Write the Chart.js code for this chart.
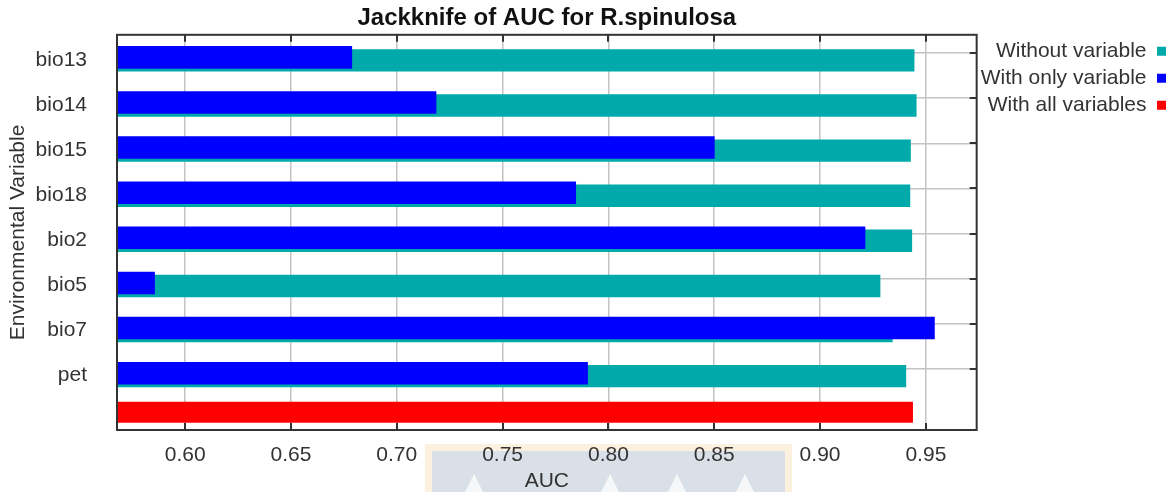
<!DOCTYPE html>
<html>
<head>
<meta charset="utf-8">
<title>Jackknife of AUC</title>
<script src="https://cdn.jsdelivr.net/npm/chart.js@4.4.1/dist/chart.umd.min.js"></script>
<style>
  html, body { margin: 0; padding: 0; background: #fff; }
  #wrap { width: 1172px; height: 492px; position: relative; }
</style>
</head>
<body>
<div id="wrap"><canvas id="jackknife"></canvas></div>
<script>
// variables and AUC values from the jackknife run
var variables = ['bio13', 'bio14', 'bio15', 'bio18', 'bio2', 'bio5', 'bio7', 'pet'];
var withoutVariable = [0.9446, 0.9456, 0.9429, 0.9426, 0.9435, 0.9285, 0.9343, 0.9407];
var withOnlyVariable = [0.6789, 0.7187, 0.8502, 0.7847, 0.9214, 0.5857, 0.9542, 0.7903];
var withAllVariables = 0.9439;

Chart.defaults.font.family = "'Liberation Sans', Arial, sans-serif";
Chart.defaults.color = '#333';

// rows as {x: auc, y: row index}
var onlyPoints = variables.map(function (v, i) { return { x: withOnlyVariable[i], y: i }; });
var withoutPoints = variables.map(function (v, i) { return { x: withoutVariable[i], y: i }; });
var allPoints = [{ x: withAllVariables, y: variables.length }];

// white page, plus the pale panel behind the axis title
var backdrop = {
    id: 'backdrop',
    beforeDraw: function (chart) {
        var ctx = chart.ctx;
        ctx.save();
        ctx.fillStyle = '#fff';
        ctx.fillRect(0, 0, chart.width, chart.height);
        ctx.fillStyle = '#fcf1df';
        ctx.fillRect(425, 444, 367, 48);
        ctx.fillStyle = '#d9e0e8';
        ctx.fillRect(432, 451, 353, 41);
        ctx.fillStyle = 'rgba(255,255,255,0.75)';
        [474, 610, 677, 745].forEach(function (px) {
            ctx.beginPath();
            ctx.moveTo(px, 474);
            ctx.lineTo(px + 9, 492);
            ctx.lineTo(px - 9, 492);
            ctx.closePath();
            ctx.fill();
        });
        ctx.restore();
    }
};

// plot frame with inward tick marks
var frame = {
    id: 'frame',
    afterDatasetsDraw: function (chart) {
        var ctx = chart.ctx, a = chart.chartArea, sx = chart.scales.x, sg = chart.scales.yg;
        ctx.save();
        ctx.strokeStyle = '#333';
        ctx.lineWidth = 2;
        ctx.strokeRect(a.left, a.top, a.right - a.left, a.bottom - a.top);
        ctx.beginPath();
        sx.ticks.forEach(function (t) {
            var px = Math.round(sx.getPixelForValue(t.value));
            ctx.moveTo(px, a.top); ctx.lineTo(px, a.top + 7);
            ctx.moveTo(px, a.bottom); ctx.lineTo(px, a.bottom - 7);
        });
        sg.ticks.forEach(function (t) {
            if (t.value >= variables.length) return;
            var py = Math.round(sg.getPixelForValue(t.value));
            ctx.moveTo(a.right, py); ctx.lineTo(a.right - 7, py);
        });
        ctx.stroke();
        ctx.restore();
    }
};

var ctx = document.getElementById('jackknife').getContext('2d');
var jackknifeChart = new Chart(ctx, {
    type: 'bar',
    data: {
        datasets: [{
            label: 'With all variables',
            data: allPoints,
            backgroundColor: '#ff0000',
            borderWidth: 0,
            categoryPercentage: 0.406,
            barPercentage: 3.44
        }, {
            label: 'With only variable',
            data: onlyPoints,
            backgroundColor: '#0000ff',
            borderWidth: 0,
            categoryPercentage: 0.2,
            barPercentage: 7.5
        }, {
            label: 'Without variable',
            data: withoutPoints,
            backgroundColor: '#00aaaa',
            borderWidth: 0,
            categoryPercentage: 0.2,
            barPercentage: 7.45
        }]
    },
    plugins: [backdrop, frame],
    options: {
        indexAxis: 'y',
        responsive: true,
        maintainAspectRatio: false,
        animation: false,
        layout: { padding: 0 },
        plugins: {
            title: {
                display: true,
                fullSize: false,
                text: 'Jackknife of AUC for R.spinulosa',
                color: '#111',
                font: { size: 24, weight: 'bold' },
                padding: { top: 4, bottom: 2 }
            },
            legend: {
                position: 'right',
                align: 'start',
                fullSize: false,
                rtl: true,
                labels: {
                    boxWidth: 9,
                    boxHeight: 9,
                    padding: 6,
                    color: '#333',
                    font: { size: 21 },
                    sort: function (a, b) { return b.datasetIndex - a.datasetIndex; }
                }
            },
            tooltip: { enabled: false }
        },
        scales: {
            x: {
                type: 'linear',
                min: 0.5678,
                max: 0.974,
                afterFit: function (s) { s.height = 62; },
                grid: { color: '#c4c4c4', lineWidth: 1.5, drawTicks: false },
                border: { display: false },
                ticks: {
                    stepSize: 0.05,
                    includeBounds: false,
                    padding: 13,
                    color: '#333',
                    font: { size: 21 },
                    callback: function (v) { return v.toFixed(2); }
                },
                title: {
                    display: true,
                    text: 'AUC',
                    color: '#333',
                    font: { size: 21, lineHeight: 1 },
                    padding: 0
                }
            },
            y: {
                type: 'linear',
                position: 'left',
                reverse: true,
                offset: false,
                min: -0.5,
                max: 8.26,
                afterFit: function (s) { s.width = 117; },
                // invisible tick marks keep the labels clear of the frame
                grid: {
                    display: true,
                    offset: false,
                    drawOnChartArea: false,
                    drawTicks: true,
                    tickLength: 28,
                    color: 'rgba(0,0,0,0)'
                },
                border: { display: false },
                ticks: {
                    stepSize: 1,
                    includeBounds: false,
                    autoSkip: false,
                    padding: 2,
                    labelOffset: 2.5,
                    color: '#333',
                    font: { size: 21 },
                    callback: function (v) { return variables[v] || ''; }
                },
                title: {
                    display: true,
                    text: 'Environmental Variable',
                    color: '#333',
                    font: { size: 21, lineHeight: 1 },
                    padding: { top: 8, bottom: 0 }
                }
            },
            yg: {
                type: 'linear',
                position: 'left',
                reverse: true,
                offset: false,
                min: -0.406,
                max: 8.352,
                afterFit: function (s) { s.width = 0; },
                border: { display: false },
                grid: {
                    offset: false,
                    drawTicks: false,
                    lineWidth: 1.5,
                    color: function (c) {
                        return c.tick && c.tick.value < variables.length ? '#c4c4c4' : 'rgba(0,0,0,0)';
                    }
                },
                ticks: { display: false, stepSize: 1, includeBounds: false }
            }
        }
    }
});
</script>
</body>
</html>
